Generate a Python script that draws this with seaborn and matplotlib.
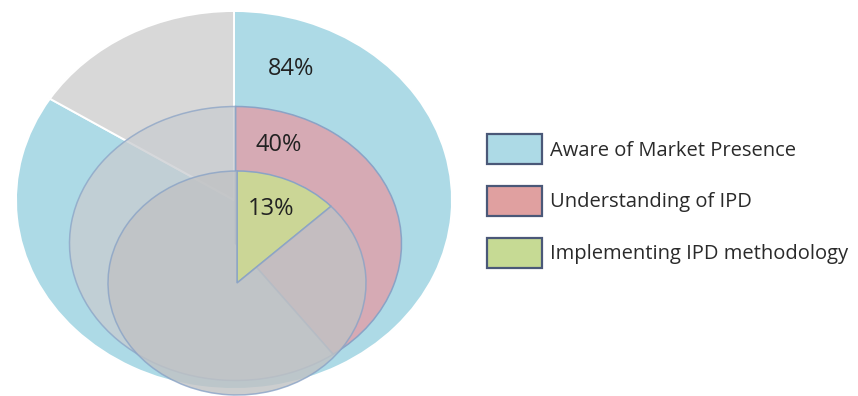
import matplotlib
matplotlib.use("Agg")
import matplotlib.pyplot as plt
from matplotlib.transforms import Affine2D
from matplotlib.patches import Patch
import seaborn as sns

# Survey results: share of respondents at each stage
stages = ["Aware of Market Presence", "Understanding of IPD", "Implementing IPD methodology"]
percent = [84, 40, 13]
stage_colors = ["#ADDAE6", "#D6AAB4", "#CBD696"]
legend_colors = ["#ADDAE6", "#E0A0A0", "#C6DA94"]
rest_colors = ["#D8D8D8", "#C9CCD0", "#C0C2C4"]
rest_alpha = [1.0, 0.75, 0.8]
label_text = ["84%", "40%", "13%"]

# ellipse geometry per pie (centre x, centre y, half-width, half-height) in pixels
pie_geom = [(234, 200, 218, 189), (235.5, 243.5, 166, 137), (237, 283, 129, 112)]
label_pos = [(291, 69), (279, 145), (271, 209)]

sns.set_theme(style="white")
plt.rcParams["font.family"] = ["Open Sans", "DejaVu Sans"]

fig = plt.figure(figsize=(8.58, 3.96), dpi=100)
ax = fig.add_axes([0, 0, 1, 1])

edge_cols = ["white", "#8AA3C6", "#8AA3C6"]
for i, (p, geom) in enumerate(zip(percent, pie_geom)):
    cx, cy, rx, ry = geom
    wedges, _ = ax.pie([p, 100 - p], colors=[stage_colors[i], rest_colors[i]],
                       startangle=90, counterclock=False, radius=1,
                       wedgeprops=dict(edgecolor=edge_cols[i], linewidth=1.4 if i == 0 else 1.1))
    tr = Affine2D().scale(rx, -ry).translate(cx, cy) + ax.transData
    for j, w in enumerate(wedges):
        w.set_transform(tr)
        w.set_zorder(2 + i)
        if j == 1:
            w.set_alpha(rest_alpha[i])

for txt, (x, y) in zip(label_text, label_pos):
    ax.text(x, y, txt, ha="center", va="center", fontsize=17, color="#222222", zorder=10)

ax.set_aspect("auto")
ax.set_xlim(0, 858)
ax.set_ylim(396, 0)
ax.axis("off")

handles = [Patch(facecolor=c, edgecolor="#4A5878", linewidth=1.6) for c in legend_colors]
leg = fig.legend(handles, stages, loc="upper left",
                 bbox_to_anchor=(487 / 858, 1 - 134 / 396), frameon=False,
                 fontsize=14.5, handlelength=2.73, handleheight=1.95,
                 labelspacing=1.06, handletextpad=0.4, borderpad=0, borderaxespad=0)
for t in leg.get_texts():
    t.set_color("#2A2A2A")

fig.savefig("out.png", dpi=100, facecolor="white")
